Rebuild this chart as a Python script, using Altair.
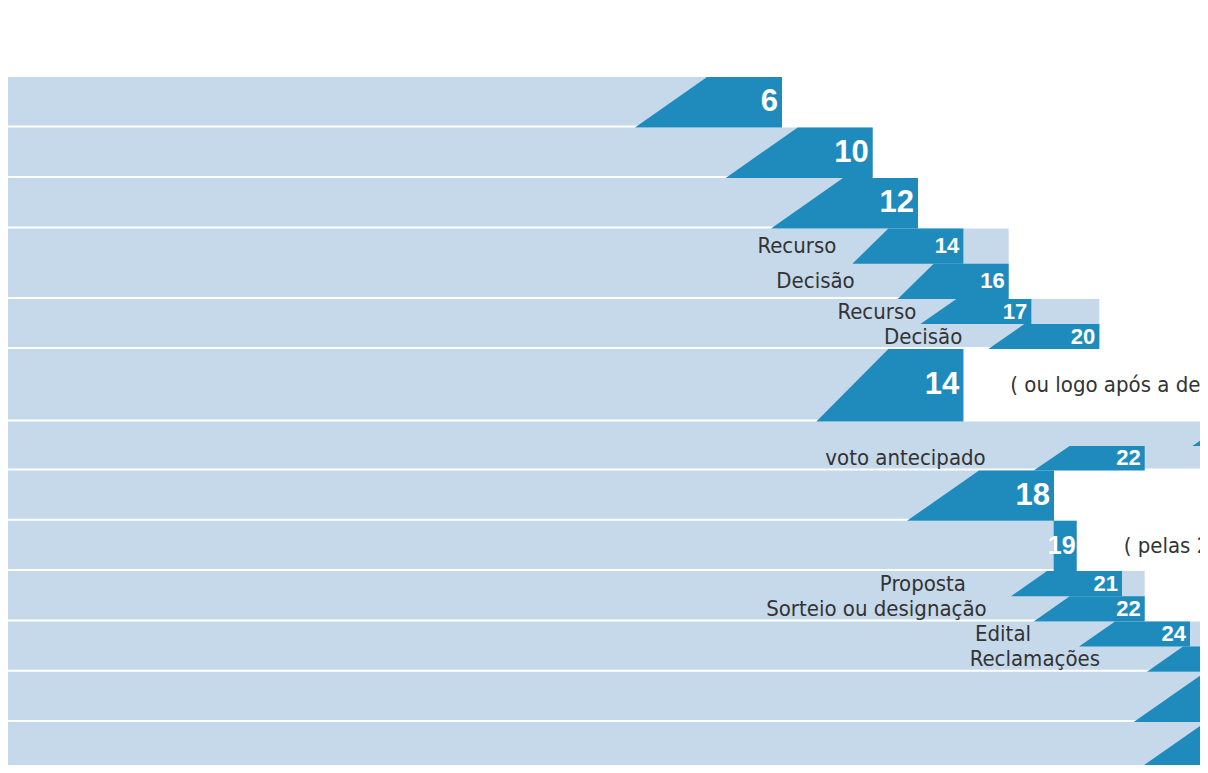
import altair as alt
import pandas as pd

# ---------------- data ----------------
row_values = [[6], [10], [12], [14, 16], [17, 20], [14], [29, 22], [18], [19],
              [21, 22], [24, 27], [28], [28]]
row_labels = [[""], [""], [""], ["Recurso", "Decisão"], ["Recurso", "Decisão"], [""],
              ["", "voto antecipado"], [""], [""], ["Proposta", "Sorteio ou designação"],
              ["Edital", "Reclamações"], [""], [""]]
row_notes = ["", "", "", "", "", "( ou logo após a decisão )", "", "", "( pelas 21 horas )",
             "", "", "", ""]

# ---------------- layout (pixels) ----------------
W, H = 1192, 757
X_MIN = -28.147
PX = 22.667                      # pixels per unit
X_MAX = X_MIN + W / PX
TOP = 69
row_heights = [50.5, 50.5, 50.5, 70.5, 50, 72.5, 49, 50.3, 50.3, 50.3, 50.3, 50.3, 50.3]
row_block = [False] * 8 + [True] + [False] * 4
label_gaps = {(3, 0): 16, (3, 1): 43, (4, 0): 4, (4, 1): 26, (6, 1): 48,
              (9, 0): 45, (9, 1): 47, (10, 0): 48, (10, 1): 47}
TOP_W, SLANT_FULL, SLANT_SUB, BLOCK_W, GAP = 75, 72, 36, 23, 2
NOTE_GAP = 47

LIGHT, DARK, GREY = "#c6d9ea", "#1f8bbd", "#333333"
COND = "'DejaVu Sans Condensed', 'DejaVu Sans', sans-serif"
NUMF = "'Liberation Sans', Arial, sans-serif"

shapes, bgs, vals, labs, notes = [], [], [], [], []
y = TOP
sid = 0
for r, (vs, ls) in enumerate(zip(row_values, row_labels)):
    h = row_heights[r]
    n = len(vs)
    bgs.append({"x1": X_MIN - 5, "x2": max(vs), "y1": y, "y2": y + h - GAP})
    sub_h = h / n
    for i, (v, lab) in enumerate(zip(vs, ls)):
        yt, yb = y + i * sub_h, y + (i + 1) * sub_h
        if row_block[r]:
            tl = v - BLOCK_W / PX
            bl = tl
        else:
            tl = v - TOP_W / PX
            bl = tl - (SLANT_FULL if n == 1 else SLANT_SUB) / PX
        shapes.append({"sid": sid, "y": yt, "xl": tl, "xr": v})
        shapes.append({"sid": sid, "y": yb, "xl": bl, "xr": v})
        sid += 1
        if v <= X_MAX:
            fs = 22 if n > 1 else (25 if row_block[r] else 31)
            vals.append({"x": v, "y": (yt + yb) / 2, "t": str(v), "fs": fs,
                         "dx": -1 if row_block[r] else -4})
        if lab:
            labs.append({"x": bl - label_gaps.get((r, i), 46) / PX,
                         "y": (yt + yb) / 2, "t": lab})
    if row_notes[r]:
        notes.append({"x": max(vs) + NOTE_GAP / PX, "y": y + h / 2, "t": row_notes[r]})
    y += h

for d in vals:
    d["x"] = d["x"] + d.pop("dx") / PX

xs = alt.Scale(domain=[X_MIN, X_MAX], nice=False, zero=False)
ys = alt.Scale(domain=[0, H], nice=False, zero=False, reverse=True)

bg = alt.Chart(pd.DataFrame(bgs)).mark_rect(color=LIGHT, clip=True).encode(
    x=alt.X("x1:Q", scale=xs, axis=None), x2="x2:Q",
    y=alt.Y("y1:Q", scale=ys, axis=None), y2="y2:Q")

dark = alt.Chart(pd.DataFrame(shapes)).mark_area(
    orient="horizontal", color=DARK, clip=True).encode(
    y=alt.Y("y:Q", scale=ys, axis=None),
    x=alt.X("xl:Q", scale=xs, axis=None, stack=None), x2="xr:Q",
    detail="sid:N")

val_text = alt.Chart(pd.DataFrame(vals)).mark_text(
    color="white", font=NUMF, fontWeight="bold", align="right", baseline="middle",
    clip=True).encode(
    x=alt.X("x:Q", scale=xs, axis=None), y=alt.Y("y:Q", scale=ys, axis=None),
    text="t:N", size=alt.Size("fs:Q", scale=None))

lab_text = alt.Chart(pd.DataFrame(labs)).mark_text(
    color=GREY, font=COND, fontSize=22, align="right", baseline="middle",
    clip=True).encode(
    x=alt.X("x:Q", scale=xs, axis=None), y=alt.Y("y:Q", scale=ys, axis=None),
    text="t:N")

note_text = alt.Chart(pd.DataFrame(notes)).mark_text(
    color=GREY, font=COND, fontSize=22, align="left", baseline="middle",
    clip=True).encode(
    x=alt.X("x:Q", scale=xs, axis=None), y=alt.Y("y:Q", scale=ys, axis=None),
    text="t:N")

chart = alt.layer(bg, dark, val_text, lab_text, note_text).properties(
    width=W, height=H, padding=0, autosize="none"
).configure_view(strokeWidth=0)

chart.save("out.html", embed_options={"renderer": "svg", "actions": False})
